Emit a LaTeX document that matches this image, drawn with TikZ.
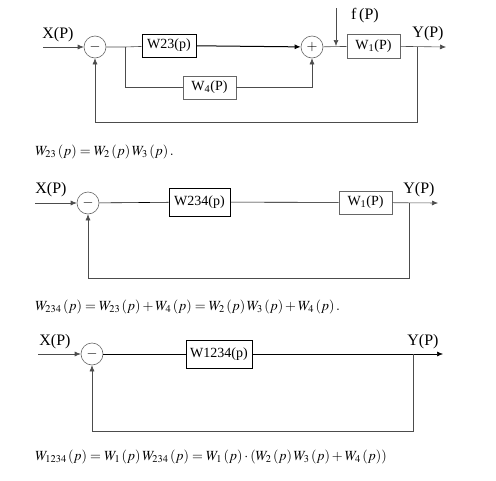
\documentclass[tikz,border=0pt]{standalone}
\usepackage{mathptmx}
\usepackage{fontspec}
\setmainfont{Liberation Serif}
\usetikzlibrary{arrows.meta}

\tikzset{
  bdsum/.style={circle, draw=gray!80!black, line width=.6pt, minimum size=22pt, inner sep=0pt, font=\fontsize{14}{14}\selectfont},
  bdblock/.style={draw=black, line width=.8pt, inner sep=0pt, font=\fontsize{14}{14}\selectfont},
  bdblockg/.style={draw=gray!80!black, line width=.6pt, inner sep=0pt, font=\fontsize{14}{14}\selectfont},
  bdlabel/.style={inner sep=0pt, font=\fontsize{16}{16}\selectfont},
  bdline/.style={line width=.6pt, draw=gray!60!black},
  bdarrow/.style={bdline, -{Latex[length=6pt,width=5pt]}},
  bdformula/.style={anchor=west, inner sep=0pt, font=\fontsize{14}{14}\selectfont}
}

\begin{document}
\begin{tikzpicture}[x=1pt, y=-1pt]
\useasboundingbox (0,0) rectangle (496,480);

% first diagram
\node[bdlabel] (lx1) at (58,35) {X(P)};
\node[bdlabel] (ly1) at (428,34) {Y(P)};
\node[bdlabel] (lf1) at (365,16) {f\,(P)};
\coordinate (x1) at (43,47);
\coordinate (y1) at (446,47);
\coordinate (f1) at (336,8);
\coordinate (fin1) at (336,46);
\node[bdsum] (s1) at (95,47) {$-$};
\node[bdsum] (s2) at (312,47) {$+$};
\node[bdblock, minimum width=54pt, minimum height=23pt] (w23) at (169,45.5) {W23(p)};
\node[bdblockg, minimum width=53pt, minimum height=23pt] (w4) at (209.5,87.5) {W\textsubscript{4}(P)};
\node[bdblockg, minimum width=53pt, minimum height=24pt] (w1a) at (373.5,46) {W\textsubscript{1}(P)};
\coordinate (b1) at (125,47);
\coordinate (b2) at (417,47);
\coordinate (fb1) at (417,122);

\draw[bdarrow] (x1) -- (s1);
\draw[bdline] (s1) -- (b1) -- (w23);
\draw[bdarrow, draw=black, line width=1pt] (w23) -- (s2);
\draw[bdline] (b1) |- (w4);
\draw[bdarrow] (w4) -| (s2);
\draw[bdline] (s2) -- (w1a);
\draw[bdarrow] (w1a) -- (y1);
\draw[bdarrow] (f1) -- (fin1);
\draw[bdarrow] (b2) -- (fb1) -| (s1);

\node[bdformula] (eq1) at (35,152) {$W_{23}\left(p\right)=W_2\left(p\right)W_3\left(p\right).$};

% second diagram
\node[bdlabel] (lx2) at (51,190) {X(P)};
\node[bdlabel] (ly2) at (419,190) {Y(P)};
\coordinate (x2) at (35,203);
\coordinate (y2) at (438,203);
\node[bdsum] (s3) at (88,203) {$-$};
\node[bdblock, minimum width=61pt, minimum height=28pt] (w234) at (199.5,202) {W234(p)};
\node[bdblockg, minimum width=53pt, minimum height=23pt] (w1b) at (365.5,202.5) {W\textsubscript{1}(P)};
\coordinate (b3) at (409,203);
\coordinate (fb2) at (409,278);

\draw[bdarrow] (x2) -- (s3);
\draw[bdline, draw=black] (s3) -- (w234);
\draw[bdline, draw=black] (w234) -- (w1b);
\draw[bdarrow] (w1b) -- (y2);
\draw[bdarrow] (b3) -- (fb2) -| (s3);

\node[bdformula] (eq2) at (35,307) {$W_{234}\left(p\right)=W_{23}\left(p\right)+W_4\left(p\right)=W_2\left(p\right)W_3\left(p\right)+W_4\left(p\right).$};

% third diagram
\node[bdlabel] (lx3) at (55,342) {X(P)};
\node[bdlabel] (ly3) at (423,342) {Y(P)};
\coordinate (x3) at (38,354);
\coordinate (y3) at (443,354);
\node[bdsum] (s4) at (92,354) {$-$};
\node[bdblock, minimum width=66pt, minimum height=28pt] (w1234) at (219,354) {W1234(p)};
\coordinate (b4) at (413,354);
\coordinate (fb3) at (413,431);

\draw[bdarrow] (x3) -- (s4);
\draw[bdline, draw=black] (s4) -- (w1234);
\draw[bdarrow, draw=black] (w1234) -- (y3);
\draw[bdarrow] (b4) -- (fb3) -| (s4);

\node[bdformula] (eq3) at (35,457) {$W_{1234}\left(p\right)=W_1\left(p\right)W_{234}\left(p\right)=W_1\left(p\right)\cdot\left(W_2\left(p\right)W_3\left(p\right)+W_4\left(p\right)\right)$};
\end{tikzpicture}
\end{document}
